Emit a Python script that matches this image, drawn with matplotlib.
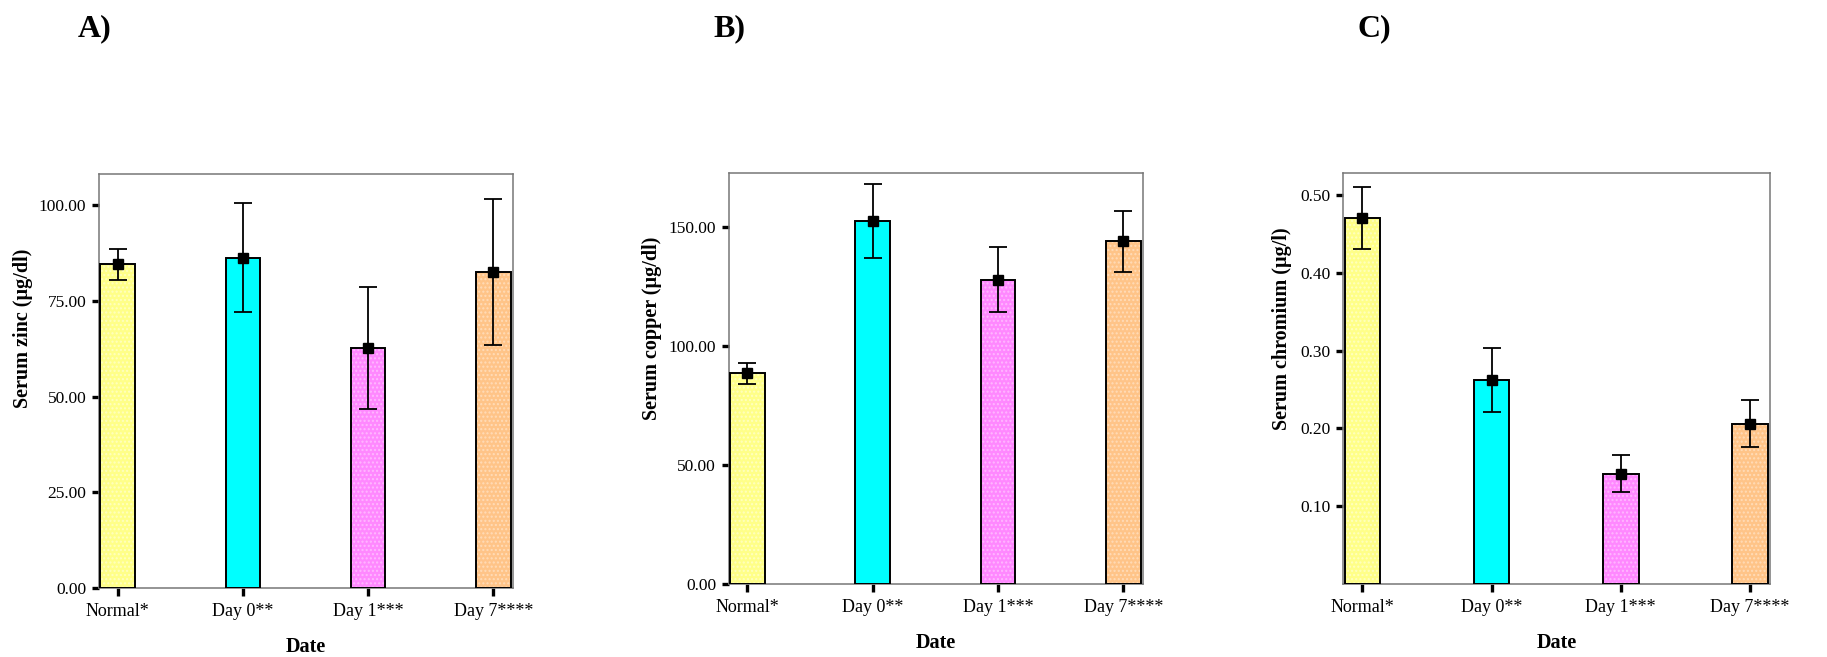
import numpy as np
import matplotlib
matplotlib.use("Agg")
import matplotlib.pyplot as plt
from matplotlib.ticker import FormatStrFormatter

plt.rcParams['font.family'] = ['Liberation Serif', 'DejaVu Serif']
plt.rcParams['hatch.linewidth'] = 1.0

# Data
groups = ["Normal*", "Day 0**", "Day 1***", "Day 7****"]
bar_colors = ["#FFFF88", "#00FFFF", "#FF88FF", "#FFC488"]
dot_colors = ["#FFFFC0", "#00FFFF", "#FFB8FF", "#FFDCB8"]

zinc_mean = [84.5, 86.3, 62.7, 82.5]
zinc_err = [4.1, 14.3, 16.0, 19.1]

copper_mean = [88.6, 152.8, 128.0, 144.2]
copper_err = [4.5, 15.6, 13.7, 12.9]

chromium_mean = [0.470, 0.262, 0.142, 0.206]
chromium_err = [0.040, 0.041, 0.024, 0.030]

panels = [
    dict(tag="A)", ylabel="Serum zinc (\u00b5g/dl)", mean=zinc_mean, err=zinc_err,
         ylim=(0, 108.1), yticks=[0, 25, 50, 75, 100],
         rect=[0.0541, 0.105, 0.2266, 0.630], tag_x=0.052, ylab_x=0.0178),
    dict(tag="B)", ylabel="Serum copper (\u00b5g/dl)", mean=copper_mean, err=copper_err,
         ylim=(0, 172.7), yticks=[0, 50, 100, 150],
         rect=[0.3988, 0.111, 0.2267, 0.625], tag_x=0.399, ylab_x=0.3625),
    dict(tag="C)", ylabel="Serum chromium (\u00b5g/l)", mean=chromium_mean, err=chromium_err,
         ylim=(0, 0.5277), yticks=[0.1, 0.2, 0.3, 0.4, 0.5],
         rect=[0.7351, 0.111, 0.2337, 0.625], tag_x=0.752, ylab_x=0.707),
]

fig = plt.figure(figsize=(18.27, 6.57), dpi=100)
x = np.arange(len(groups))

for p in panels:
    ax = fig.add_axes(p["rect"])
    # dotted fill texture, then black outline on top
    ax.bar(x, p["mean"], width=0.275, color=bar_colors, edgecolor=dot_colors,
           linewidth=0, hatch="....", zorder=2)
    ax.bar(x, p["mean"], width=0.275, fill=False, edgecolor="black",
           linewidth=1.4, zorder=3)
    ax.errorbar(x, p["mean"], yerr=p["err"], fmt="s", color="black",
                markersize=7.5, ecolor="black", elinewidth=1.3,
                capsize=6.5, capthick=1.3, zorder=4)

    ax.set_xlim(-0.15, 3.155)
    ax.set_ylim(*p["ylim"])
    ax.set_yticks(p["yticks"])
    ax.yaxis.set_major_formatter(FormatStrFormatter("%.2f"))
    ax.set_xticks(x)
    ax.set_xticklabels(groups, fontsize=13)
    ax.tick_params(axis="y", labelsize=12.5, length=5, width=2.4, pad=4)
    ax.tick_params(axis="x", length=6, width=2.4, pad=5)
    for s in ax.spines.values():
        s.set_color("#777777")
        s.set_linewidth(1.1)

    ax.set_xlabel("Date", fontsize=14.5, fontweight="bold", labelpad=12)
    ax.set_ylabel(p["ylabel"], fontsize=14.5, fontweight="bold")
    ax.yaxis.set_label_coords(p["ylab_x"], 0.5, transform=fig.transFigure)

    fig.text(p["tag_x"], 0.956, p["tag"], fontsize=23, fontweight="bold",
             ha="center", va="center")

fig.savefig("out.png", dpi=100)
